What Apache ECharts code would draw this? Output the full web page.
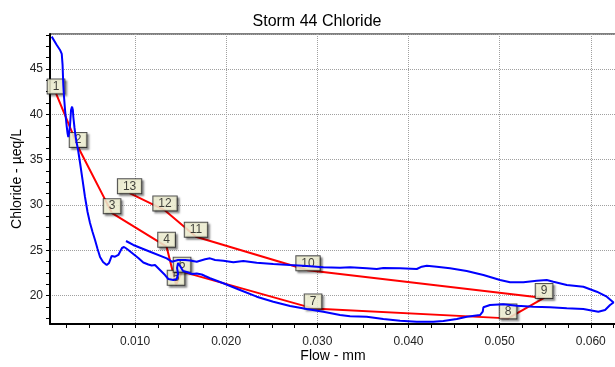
<!DOCTYPE html>
<html>
<head>
<meta charset="utf-8">
<script src="https://cdn.jsdelivr.net/npm/echarts@6/dist/echarts.min.js"></script>
<style>
  html, body { margin: 0; padding: 0; background: #fff; }
  #chart { width: 615px; height: 367px; }
</style>
</head>
<body>
<div id="chart"></div>
<script>
// continuous record (blue)
var contFlow = [0.00086, 0.00141, 0.00177, 0.00196, 0.00205, 0.00213, 0.00221, 0.00232, 0.00243, 0.00251,
  0.00259, 0.00268, 0.00276, 0.00287, 0.00298, 0.00309, 0.00318, 0.00323, 0.00336, 0.00347,
  0.00360, 0.00375, 0.00397, 0.00424, 0.00451, 0.00479, 0.00506, 0.00534, 0.00561, 0.00589,
  0.00616, 0.00649, 0.00689, 0.00715, 0.00744, 0.00781, 0.00817, 0.00835, 0.00857, 0.00879,
  0.00901, 0.00926, 0.00981, 0.01036, 0.01091, 0.01146, 0.01183, 0.01219, 0.01241, 0.01274,
  0.01329, 0.01365, 0.01420, 0.01458, 0.01472, 0.01461, 0.01472, 0.01494, 0.01527, 0.01567,
  0.01625, 0.01677, 0.01695, 0.01732, 0.01768, 0.01823, 0.01969, 0.02152, 0.02335, 0.02517,
  0.02701, 0.02884, 0.03066, 0.03249, 0.03359, 0.03542, 0.03724, 0.03908, 0.04091, 0.04273,
  0.04383, 0.04530, 0.04640, 0.04785, 0.04815, 0.04822, 0.04895, 0.05041, 0.05188, 0.05370,
  0.05553, 0.05737, 0.05919, 0.06083, 0.06157, 0.06212, 0.06250, 0.06176, 0.06066, 0.05919,
  0.05737, 0.05590, 0.05517, 0.05408, 0.05261, 0.05115, 0.05005, 0.04822, 0.04639, 0.04456,
  0.04310, 0.04201, 0.04146, 0.04091, 0.03908, 0.03724, 0.03652, 0.03542, 0.03359, 0.03249,
  0.03066, 0.02884, 0.02701, 0.02517, 0.02335, 0.02188, 0.02079, 0.01969, 0.01878, 0.01823,
  0.01768, 0.01677, 0.01603, 0.01549, 0.01472, 0.01403, 0.01348, 0.01165, 0.00981, 0.00901];
var contCl = [48.56, 47.64, 47.09, 46.65, 45.44, 43.23, 41.91, 40.47, 39.37, 38.60,
  37.94, 37.50, 37.94, 38.82, 40.47, 40.84, 40.47, 39.70, 38.49, 37.60,
  36.83, 36.06, 34.63, 32.76, 30.88, 29.23, 28.02, 27.03, 26.14, 25.15,
  24.27, 23.72, 23.38, 23.61, 24.38, 24.30, 24.49, 24.49, 25.26, 25.37,
  25.23, 25.04, 24.60, 24.16, 23.66, 23.44, 23.33, 23.38, 23.16, 22.83,
  22.28, 21.84, 21.73, 21.84, 22.39, 23.05, 23.61, 23.27, 22.72, 22.61,
  22.39, 22.45, 22.65, 22.34, 22.17, 21.92, 21.37, 20.63, 19.89, 19.34,
  18.86, 18.53, 18.24, 17.87, 17.73, 17.68, 17.43, 17.24, 17.13, 17.13,
  17.21, 17.43, 17.68, 17.87, 18.24, 18.72, 18.97, 19.05, 18.90, 18.79,
  18.72, 18.61, 18.53, 18.24, 18.42, 18.97, 19.25, 19.89, 20.44, 20.99,
  21.18, 21.54, 21.73, 21.65, 21.48, 21.48, 21.73, 22.28, 22.72, 23.02,
  23.20, 23.31, 23.20, 22.94, 23.02, 23.05, 22.94, 23.02, 23.13, 23.09,
  23.13, 23.27, 23.38, 23.50, 23.64, 23.83, 23.68, 23.86, 23.94, 24.12,
  24.01, 23.75, 23.88, 23.94, 23.94, 23.75, 24.12, 24.85, 25.59, 26.03];

// grab samples (red, numbered)
var sampleIds = ['1', '2', '3', '4', '5', '6', '7', '8', '9', '10', '11', '12', '13'];
var sampleFlow = [0.00133, 0.00375, 0.00748, 0.01346, 0.0145, 0.01516, 0.02953, 0.05093, 0.05488, 0.02898, 0.01669, 0.01329, 0.0094];
var sampleCl = [42.3, 36.4, 29.1, 25.4, 21.2, 22.65, 18.6, 17.5, 19.75, 22.8, 26.5, 29.4, 31.3];

// tick labels and tick marks
var xLabels = [0.01, 0.02, 0.03, 0.04, 0.05, 0.06];
var xTickMarks = [0.0025, 0.005, 0.0075, 0.01, 0.0125, 0.015, 0.0175, 0.02, 0.0225, 0.025, 0.0275, 0.03,
  0.0325, 0.035, 0.0375, 0.04, 0.0425, 0.045, 0.0475, 0.05, 0.0525, 0.055, 0.0575, 0.06, 0.0625];
var yLabels = [20, 25, 30, 35, 40, 45];
var yTickMarks = [17.5, 18.75, 20, 21.25, 22.5, 23.75, 25, 26.25, 27.5, 28.75, 30, 31.25, 32.5,
  33.75, 35, 36.25, 37.5, 38.75, 40, 41.25, 42.5, 43.75, 45, 46.25, 47.5, 48.75];

var xMin = 0.00067, xMax = 0.06277;
var yMin = 16.88, yMax = 48.85;
var font = 'Liberation Sans, Arial, sans-serif';

var myChart = echarts.init(document.getElementById('chart'));

var contData = contFlow.map(function (f, i) { return [f, contCl[i]]; });
var sampleData = sampleFlow.map(function (f, i) { return [f, sampleCl[i]]; });

// second axis on each side: draws the black axis line and the small tick marks
function tickAxis(min, max, pos, marks) {
    return {
        type: 'value', min: min, max: max, position: pos, offset: 0,
        axisLine: { show: true, onZero: false, lineStyle: { color: '#000', width: 2 } },
        axisTick: { show: true, customValues: marks, length: 4, lineStyle: { color: '#000', width: 1 } },
        axisLabel: { show: false },
        splitLine: { show: false }
    };
}

var option = {
    animation: false,
    title: {
        text: 'Storm 44 Chloride',
        left: 312,
        textAlign: 'center',
        top: 9,
        textStyle: { fontFamily: font, fontSize: 16, fontWeight: 'normal', color: '#000' }
    },
    grid: {
        left: 50, right: -1, top: 34, bottom: 43,
        outerBoundsMode: 'none', containLabel: false,
        show: true, borderColor: '#000', borderWidth: 1
    },
    xAxis: [{
        type: 'value', min: xMin, max: xMax,
        name: 'Flow - mm', nameLocation: 'middle', nameGap: 25, nameMoveOverlap: false,
        nameTextStyle: { fontFamily: font, fontSize: 14, color: '#000' },
        axisLine: { show: false },
        axisTick: { show: false },
        axisLabel: {
            customValues: xLabels,
            fontFamily: font, fontSize: 12, color: '#222', margin: 12,
            formatter: function (v) { return v.toFixed(3); }
        },
        splitLine: { show: true, lineStyle: { color: '#a0a0a0', type: 'dotted' } }
    }, tickAxis(xMin, xMax, 'bottom', xTickMarks)],
    yAxis: [{
        type: 'value', min: yMin, max: yMax,
        name: 'Chloride - µeq/L', nameLocation: 'middle', nameGap: 26, nameMoveOverlap: false,
        nameTextStyle: { fontFamily: font, fontSize: 14, color: '#000' },
        axisLine: { show: false },
        axisTick: { show: false },
        axisLabel: {
            customValues: yLabels,
            fontFamily: font, fontSize: 12, color: '#222', margin: 7
        },
        splitLine: { show: true, lineStyle: { color: '#a0a0a0', type: 'dotted' } }
    }, tickAxis(yMin, yMax, 'left', yTickMarks)],
    series: [{
        name: 'samples',
        type: 'line',
        data: sampleData,
        symbol: 'none',
        z: 2,
        lineStyle: { color: '#ff0000', width: 2 }
    }, {
        name: 'sample labels',
        type: 'scatter',
        data: sampleData,
        symbolSize: 0,
        z: 3,
        label: {
            show: true,
            position: 'top',
            distance: 0,
            formatter: function (p) { return sampleIds[p.dataIndex]; },
            fontFamily: font, fontSize: 12, color: '#111',
            backgroundColor: '#ffffe0',
            borderColor: '#222', borderWidth: 1,
            padding: [1, 5, 1, 5],
            shadowColor: 'rgba(0,0,0,0.45)', shadowBlur: 2, shadowOffsetX: 2, shadowOffsetY: 2
        }
    }, {
        name: 'continuous',
        type: 'line',
        data: contData,
        symbol: 'none',
        z: 4,
        lineStyle: { color: '#0000ff', width: 2 }
    }]
};

myChart.setOption(option);
</script>
</body>
</html>
